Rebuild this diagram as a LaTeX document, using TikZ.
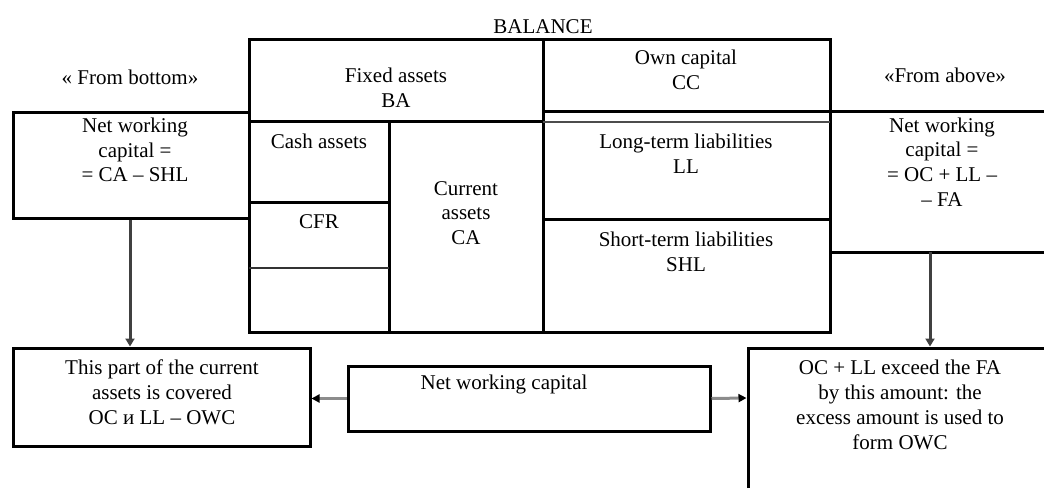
\documentclass[tikz,border=0pt]{standalone}
\usepackage{fontspec}
\setmainfont{Liberation Serif}
\usetikzlibrary{arrows.meta}
\begin{document}
\begin{tikzpicture}[x=0.5pt, y=-0.5pt, line width=1.5pt,
  every node/.style={font=\fontsize{10.5}{12.4}\selectfont, align=center, inner sep=0pt},
  box/.style={draw, rectangle, line width=1.5pt},
  arr/.style={-{Triangle[length=4pt,width=4.5pt]}, line width=1.5pt, black!75},
  harr/.style={-{Triangle[length=4pt,width=4pt,color=black]}, line width=1.5pt, black!45}]
  \useasboundingbox (0,0) rectangle (1044,488);

  % Balance table
  \draw (249,39) rectangle (830,332);
  \draw (543,39) -- (543,332);
  \draw (249,121) -- (543,121);
  \draw (389,121) -- (389,332);
  \draw (249,202) -- (389,202);
  \draw[black!80, line width=1pt] (249,268) -- (389,268);
  \draw (543,111) -- (830,111);
  \draw[black!70, line width=0.75pt] (543,122) -- (830,122);
  \draw (543,219) -- (830,219);

  \node (balance) at (543,27) {BALANCE};
  \node (fa) at (396,88) {Fixed assets\\BA};
  \node (cash) at (319,141) {Cash assets};
  \node (cfr) at (319,222) {CFR};
  \node (ca) at (466,213) {Current\\assets\\CA};
  \node (cc) at (686,70) {Own capital\\CC};
  \node (ll) at (686,154) {Long-term liabilities\\LL};
  \node (shl) at (686,252) {Short-term liabilities\\SHL};

  % From bottom
  \node (fromb) at (130,77) {«\ From bottom»};
  \node[box, minimum width=118pt, minimum height=53pt] (nwcL) at (131,165) {};
  \node at (135,150) {Net working\\capital =\\= CA – SHL};
  \node[box, minimum width=148.5pt, minimum height=49pt] (partL) at (161.5,397) {};
  \node at (162,392) {This part of the current\\assets is covered\\OC и LL – OWC};

  % From above
  \node (froma) at (945,75) {«From above»};
  \draw (830,111) -- (1044,111);
  \draw (830,252) -- (1044,252);
  \node at (942,162) {Net working\\capital =\\= OC + LL –\\– FA};
  \draw (748,488) -- (748,348) -- (1044,348);
  \node at (900,405) {OC + LL exceed the FA\\by this amount: the\\excess amount is used to\\form OWC};
  \coordinate (nwcRb) at (930,252);
  \coordinate (partRt) at (930,346.5);
  \coordinate (partRl) at (746.5,398);

  % Net working capital
  \node[box, minimum width=181pt, minimum height=32.5pt] (nwc) at (529,398.5) {};
  \node at (504,384) {Net working capital};

  % Arrows
  \coordinate (colL) at (130,0);
  \draw[arr] (nwcL.south -| colL) -- (partL.north -| colL);
  \draw[arr] (nwcRb) -- (partRt);
  \draw[harr] (nwc.west) -- (nwc.west -| partL.east);
  \draw[harr] (nwc.east) -- (partRl);
\end{tikzpicture}
\end{document}
